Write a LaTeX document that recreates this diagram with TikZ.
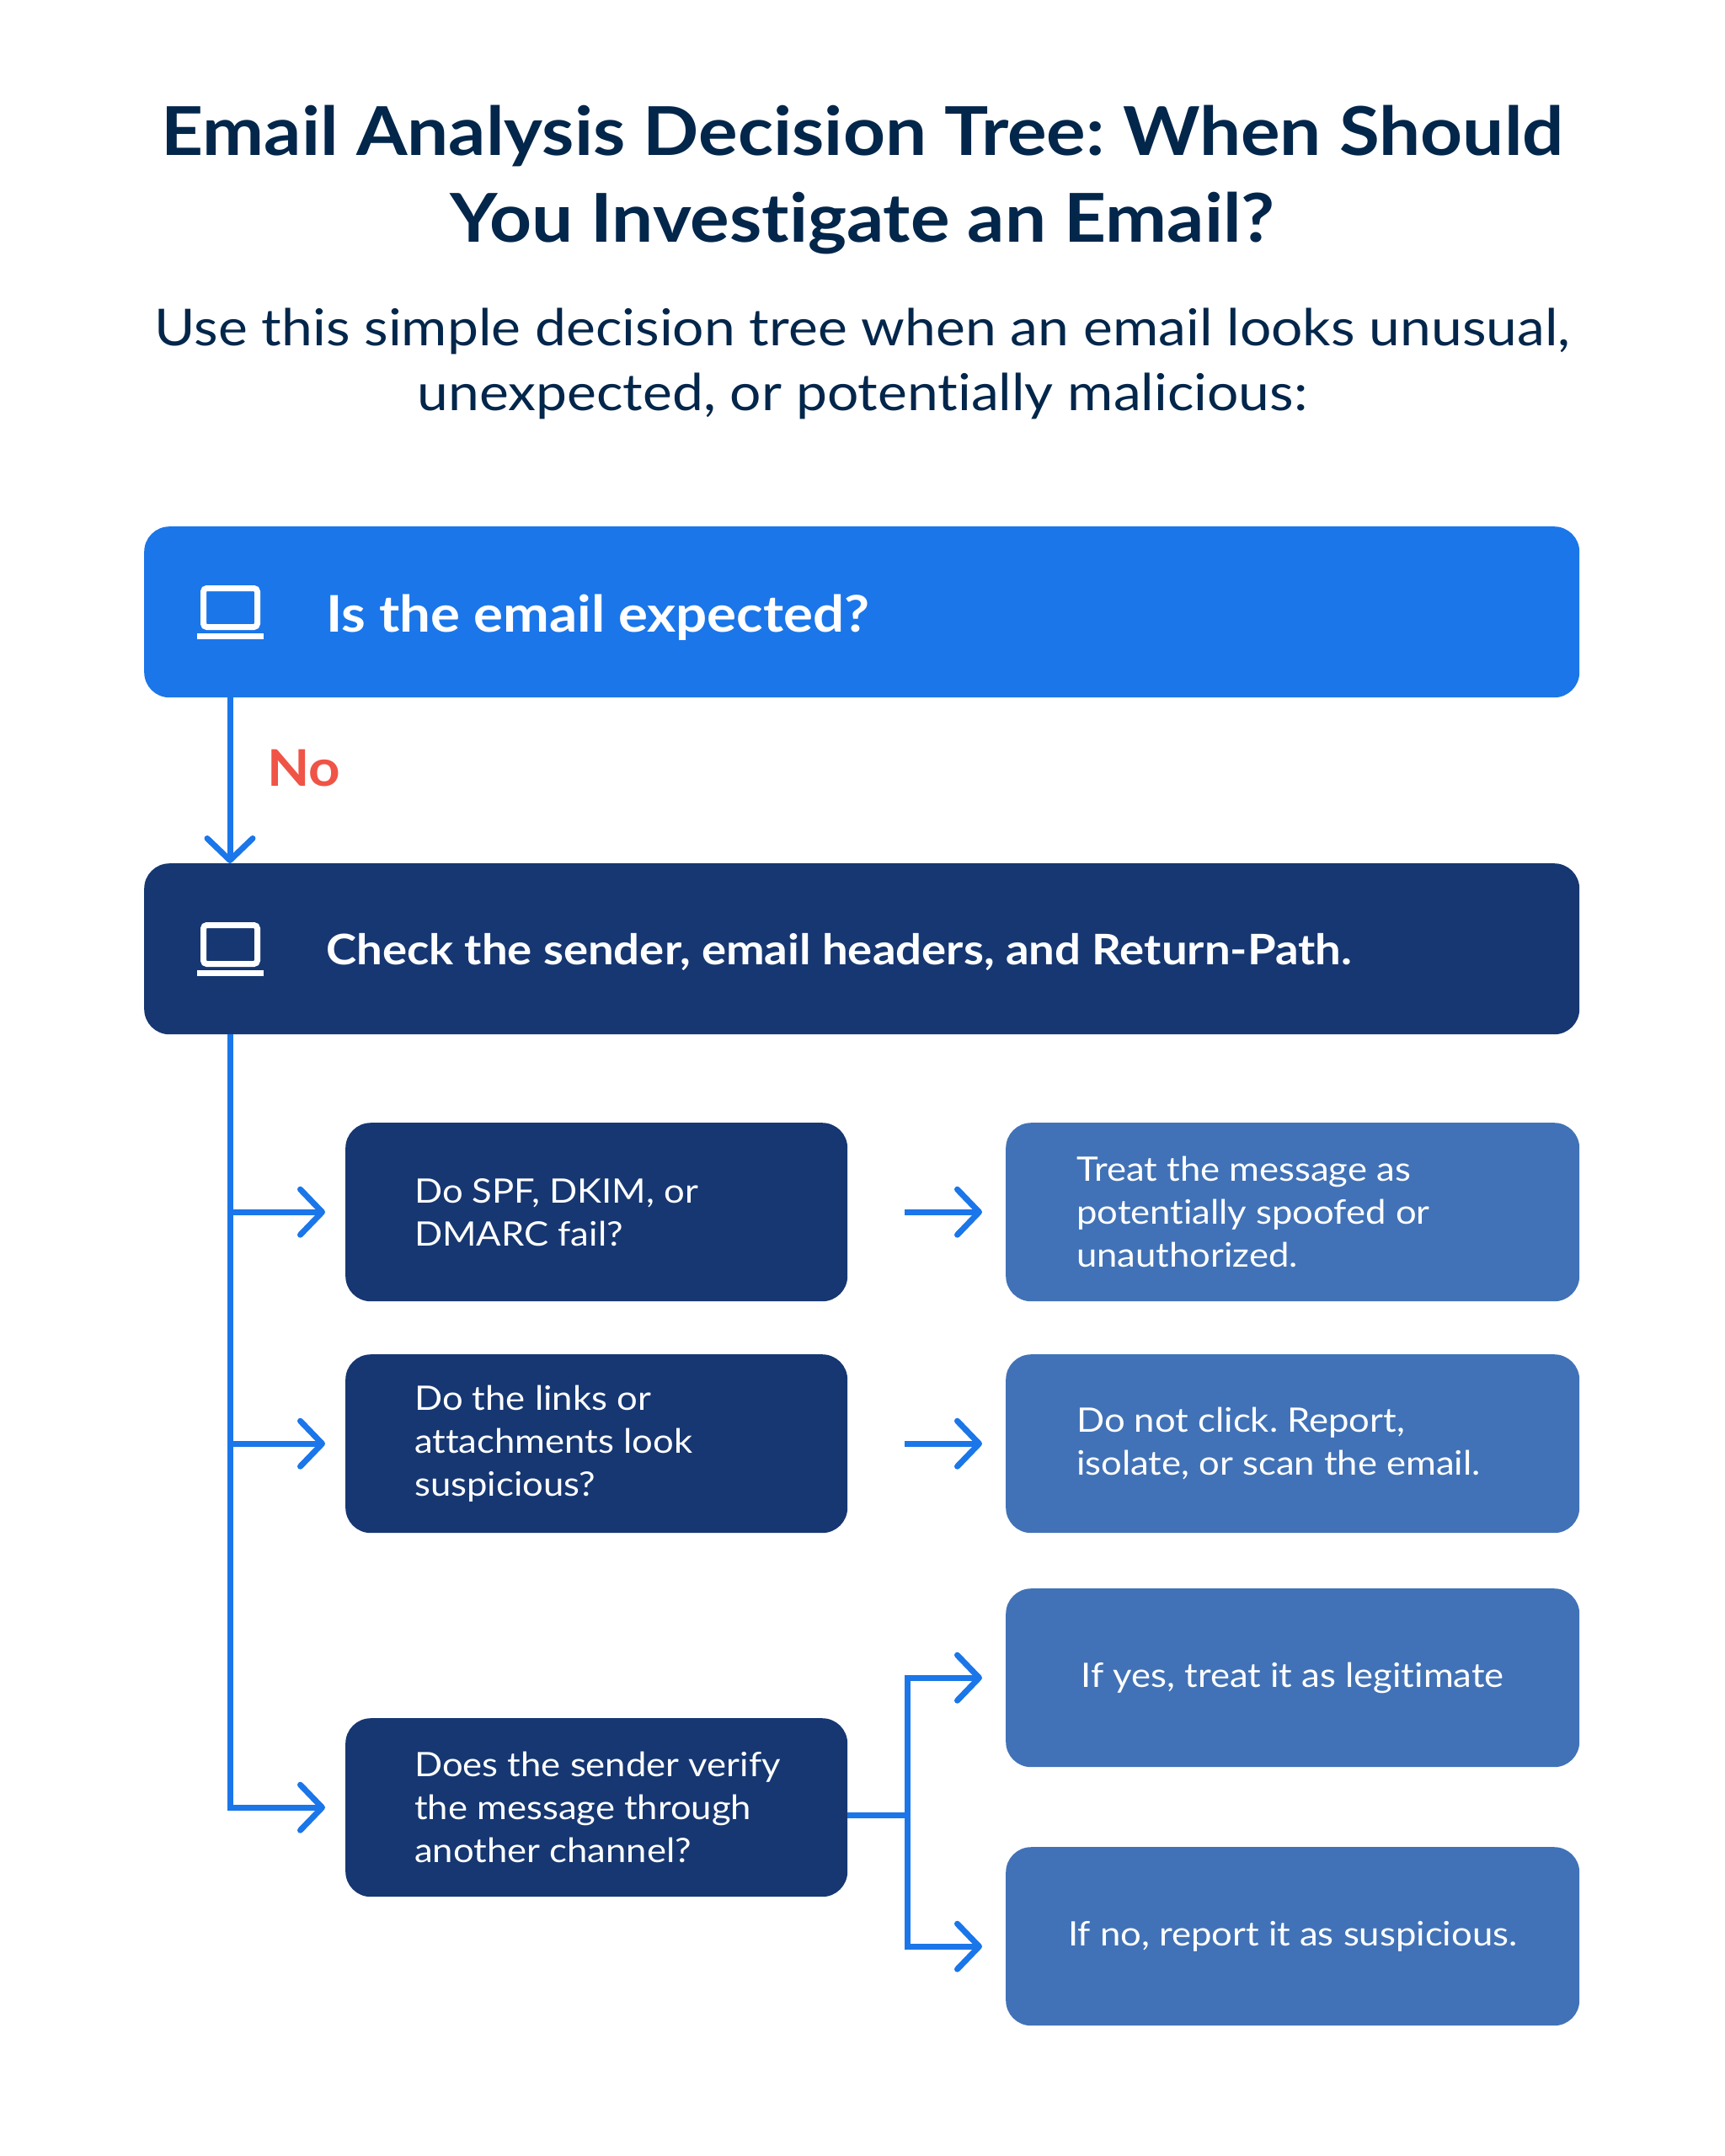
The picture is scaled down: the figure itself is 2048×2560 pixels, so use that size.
\documentclass[tikz,border=0pt]{standalone}
\usepackage{fontspec}
\setmainfont{Lato}[FakeStretch=1.09, Ligatures=NoCommon]
\frenchspacing
\usetikzlibrary{arrows.meta}
\definecolor{titlecol}{HTML}{03264B}
\definecolor{topblue}{HTML}{1B76E9}
\definecolor{navy}{HTML}{163772}
\definecolor{midblue}{HTML}{4172B7}
\definecolor{arrowblue}{HTML}{1B76E9}
\definecolor{nored}{HTML}{EF5446}
\begin{document}
\begin{tikzpicture}[x=1pt,y=-1pt,
  box/.style={rectangle, rounded corners=30pt, inner sep=0pt, anchor=north west, minimum height=212pt},
  wide/.style={box, minimum width=1704pt, minimum height=203pt},
  dbox/.style={box, fill=navy, minimum width=596pt},
  rbox/.style={box, fill=midblue, minimum width=681pt},
  titletext/.style={text=titlecol, inner sep=0pt, anchor=base, font=\fontsize{80}{103}\selectfont\bfseries},
  subtext/.style={text=titlecol, inner sep=0pt, anchor=base, font=\fontsize{60.5}{77}\selectfont},
  headtext/.style={text=white, inner sep=0pt, anchor=base west, font=\fontsize{60}{72}\selectfont\bfseries},
  head2text/.style={text=white, inner sep=0pt, anchor=base west, font=\fontsize{50}{60}\selectfont\bfseries},
  smalltext/.style={text=white, inner sep=0pt, align=left, font=\fontsize{40}{51}\selectfont},
  conn/.style={draw=arrowblue, line width=7pt},
  arr/.style={conn, -{Straight Barb[length=26pt,width=54pt,round]}},
  icon/.style={draw=white, line width=7pt}
]
\useasboundingbox[fill=white] (0,0) rectangle (2048,2560);

% title
\node[titletext] (title1) at (1024,184) {Email Analysis Decision Tree: When Should};
\node[titletext] (title2) at (1024,287) {You Investigate an Email?};
\node[subtext] (sub1) at (1024,410) {Use this simple decision tree when an email looks unusual,};
\node[subtext] (sub2) at (1024,487) {unexpected, or potentially malicious:};

% wide boxes
\node[wide, fill=topblue] (q0) at (171,625) {};
\node[wide, fill=navy] (q1) at (171,1025) {};
\node[headtext] (q0t) at (387,750) {Is the email expected?};
\node[head2text] (q1t) at (387,1145) {Check the sender, email headers, and Return-Path.};

% icons
\draw[icon, rounded corners=4pt] (241.5,698.5) rectangle (305.5,744.5);
\draw[icon] (234,755.5) -- (313,755.5);
\draw[icon, rounded corners=4pt] (241.5,1098.5) rectangle (305.5,1144.5);
\draw[icon] (234,1155.5) -- (313,1155.5);

% no label
\node[headtext, text=nored] (no) at (317,933) {No};

% decision boxes
\node[dbox] (d1) at (410,1333) {};
\node[dbox] (d2) at (410,1608) {};
\node[dbox] (d3) at (410,2040) {};
\node[smalltext, anchor=west] (d1t) at ([xshift=82pt]d1.west) {Do SPF, DKIM, or\\DMARC fail?};
\node[smalltext, anchor=west] (d2t) at ([xshift=82pt]d2.west) {Do the links or\\attachments look\\suspicious?};
\node[smalltext, anchor=west] (d3t) at ([xshift=82pt]d3.west) {Does the sender verify\\the message through\\another channel?};

% result boxes
\node[rbox] (r1) at (1194,1333) {};
\node[rbox] (r2) at (1194,1608) {};
\node[rbox] (r3) at (1194,1886) {};
\node[rbox] (r4) at (1194,2193) {};
\node[smalltext, anchor=west] (r1t) at ([xshift=84pt]r1.west) {Treat the message as\\potentially spoofed or\\unauthorized.};
\node[smalltext, anchor=west] (r2t) at ([xshift=84pt]r2.west) {Do not click. Report,\\isolate, or scan the email.};
\node[smalltext] (r3t) at (r3.center) {If yes, treat it as legitimate};
\node[smalltext] (r4t) at (r4.center) {If no, report it as suspicious.};

% connectors
\coordinate (top) at ([xshift=102pt]q0.south west);
\coordinate (trunk) at ([xshift=102pt]q1.south west);
\draw[arr] (top) -- ([xshift=102pt]q1.north west);
\draw[arr] (trunk) |- ([xshift=-24pt]d3.west);
\draw[arr] (trunk |- d1.west) -- ([xshift=-24pt]d1.west);
\draw[arr] (trunk |- d2.west) -- ([xshift=-24pt]d2.west);
\draw[arr] ([xshift=68pt]d1.east) -- ([xshift=-28pt]r1.west);
\draw[arr] ([xshift=68pt]d2.east) -- ([xshift=-28pt]r2.west);
\coordinate (split) at ([xshift=71pt, yshift=-9pt]d3.east);
\draw[conn] ([yshift=-9pt]d3.east) -- (split);
\draw[arr] (split) |- ([xshift=-28pt]r3.west);
\draw[arr] (split) |- ([xshift=-28pt, yshift=-12pt]r4.west);
\end{tikzpicture}
\end{document}
